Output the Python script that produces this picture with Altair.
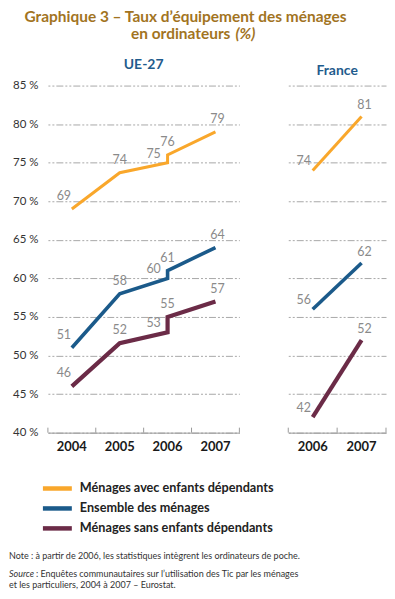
import altair as alt
import pandas as pd

# ---------------- data ----------------
series = ["Ménages avec enfants dépendants", "Ensemble des ménages", "Ménages sans enfants dépendants"]

ue_annees = ["2004", "2005", "2006", "2006", "2007"]
ue_etapes = [1, 2, 3, 4, 5]          # 2006 appears twice: before / after including pocket computers
ue_avec = [69, 73.7, 75, 76, 79]
ue_ensemble = [51, 58, 60, 61, 64]
ue_sans = [46, 51.6, 53, 55, 57]

fr_annees = ["2006", "2007"]
fr_etapes = [1, 2]
fr_avec = [74, 81]
fr_ensemble = [56, 62]
fr_sans = [42, 52]

ue_axe = ["2004", "2005", "2006", "2007"]
fr_axe = ["2006", "2007"]
graduations = [40, 45, 50, 55, 60, 65, 70, 75, 80, 85]

titre_1 = "Graphique 3 – Taux d’équipement des ménages"
titre_2a = "en ordinateurs"
titre_2b = "(%)"
note = "Note : à partir de 2006, les statistiques intègrent les ordinateurs de poche."
source_a = "Source"
source_b = " : Enquêtes communautaires sur l’utilisation des Tic par les ménages"
source_c = "et les particuliers, 2004 à 2007 – Eurostat."

# ---------------- styles ----------------
FONT = "Lato"
couleurs = ["#F9A72B", "#1B5A8A", "#6B2B47"]
epaisseurs = [3, 4.2, 2.6]
H = 348
WL = 192
WR = 98
WT = 337          # header / footer width (their views start where the plots start)
OFF = 40          # width of the y-axis band to the left of the plots


def build(annees, etapes, vals):
    rows = []
    for s, v in zip(series, vals):
        for a, e, x in zip(annees, etapes, v):
            rows.append({"annee": a, "etape": e, "serie": s, "valeur": x})
    return pd.DataFrame(rows)


df_ue = build(ue_annees, ue_etapes, [ue_avec, ue_ensemble, ue_sans])
df_fr = build(fr_annees, fr_etapes, [fr_avec, fr_ensemble, fr_sans])

yscale = alt.Scale(domain=[40, 85], nice=False, zero=False)
cscale = alt.Scale(domain=series, range=couleurs)
wscale = alt.Scale(domain=series, range=epaisseurs)


def panel(df, axe, width, titre, with_labels, placements):
    xs = alt.Scale(type="band", domain=axe, paddingInner=0, paddingOuter=0)
    xaxis = alt.Axis(title=None, ticks=False, grid=False, domainColor="#9a9a9a", domainWidth=1,
                     labelFont=FONT, labelFontSize=13, labelFontWeight="bold", labelColor="#1a1a1a",
                     labelPadding=8, labelAngle=0, minExtent=25, maxExtent=25)
    common = dict(title=None, values=graduations, ticks=False, domain=False, grid=True,
                  gridColor="#a8a8a8", gridDash=[2, 2, 2, 2, 7, 2], gridWidth=1)
    if with_labels:
        yaxis = alt.Axis(labelExpr="datum.value + ' %'", labelFont=FONT, labelFontSize=11.5,
                         labelColor="#333333", labelPadding=10, minExtent=OFF, maxExtent=OFF, **common)
    else:
        yaxis = alt.Axis(labels=False, minExtent=0, maxExtent=0, **common)

    base = alt.Chart(df).encode(
        x=alt.X("annee:N", scale=xs, axis=xaxis, bandPosition=0.5),
        y=alt.Y("valeur:Q", scale=yscale, axis=yaxis),
    )
    lines = base.mark_line(strokeJoin="miter", strokeCap="butt").encode(
        color=alt.Color("serie:N", scale=cscale, legend=None),
        strokeWidth=alt.StrokeWidth("serie:N", scale=wscale, legend=None),
        order=alt.Order("etape:Q"),
        detail="serie:N",
    )
    layers = [lines]
    for cond, dx, dy in placements:
        layers.append(
            base.mark_text(font=FONT, fontSize=12.5, color="#8a8a8a", dx=dx, dy=dy, baseline="middle")
            .encode(text=alt.Text("valeur:Q", format=".0f"))
            .transform_filter(cond)
        )
    ticks_df = pd.DataFrame({"annee": axe})
    tick0 = alt.Chart(ticks_df).mark_rule(color="#9a9a9a", strokeWidth=1).encode(
        x=alt.X("annee:N", scale=xs, axis=xaxis, bandPosition=0),
        y=alt.value(H - 5), y2=alt.value(H),
    )
    tick1 = alt.Chart(ticks_df).mark_rule(color="#9a9a9a", strokeWidth=1).encode(
        x=alt.X("annee:N", scale=xs, axis=xaxis, bandPosition=1),
        y=alt.value(H - 5), y2=alt.value(H),
    ).transform_filter(alt.datum.annee == axe[-1])
    layers += [tick0, tick1]
    return alt.layer(*layers).properties(
        width=width, height=H,
        title=alt.Title(titre, font=FONT, fontSize=14, fontWeight="bold", color="#1F5C8D", offset=8),
    )


left = panel(df_ue, ue_axe, WL, "UE-27", True, [
    (alt.datum.etape == 1, -8, -13),
    (alt.datum.etape == 3, -14, -9),
    ((alt.datum.etape == 2) | (alt.datum.etape == 4), 0, -13),
    (alt.datum.etape == 5, 2, -13),
])
right = panel(df_fr, fr_axe, WR, "France", False, [
    (alt.datum.etape == 1, -9, -9),
    (alt.datum.etape == 2, 3, -11),
])

# ---------------- header ----------------
TC = "#A2741F"
TS = 15.5
hdr_df = pd.DataFrame({"t1": [titre_1], "t2a": [titre_2a], "t2b": [titre_2b]})
hbase = alt.Chart(hdr_df)
header = alt.layer(
    hbase.mark_text(font=FONT, fontSize=TS, fontWeight="bold", color=TC, align="center", baseline="alphabetic")
    .encode(text="t1:N", x=alt.value(178 - OFF), y=alt.value(13)),
    hbase.mark_text(font=FONT, fontSize=TS, fontWeight="bold", color=TC, align="right", baseline="alphabetic")
    .encode(text="t2a:N", x=alt.value(223 - OFF), y=alt.value(30)),
    hbase.mark_text(font=FONT, fontSize=TS, fontWeight="bold", fontStyle="italic", color=TC, align="left",
                    baseline="alphabetic")
    .encode(text="t2b:N", x=alt.value(228 - OFF), y=alt.value(30)),
).properties(width=WT, height=49)

# ---------------- legend + notes ----------------
leg_df = pd.DataFrame({"serie": series})
ly = alt.Y("serie:N", scale=alt.Scale(type="point", domain=series, range=[31, 71], padding=0), axis=None)
leg_lines = alt.Chart(leg_df).mark_rule(strokeWidth=4.5).encode(
    x=alt.value(35 - OFF), x2=alt.value(64 - OFF), y=ly,
    color=alt.Color("serie:N", scale=cscale, legend=None),
)
leg_text = alt.Chart(leg_df).mark_text(font=FONT, fontSize=12.7, fontWeight="bold", color="#222222",
                                       align="left", baseline="middle").encode(
    x=alt.value(72 - OFF), y=ly, text="serie:N",
)
notes_df = pd.DataFrame({"n": [note], "sa": [source_a], "sb": [source_b], "sc": [source_c]})
nb = alt.Chart(notes_df)
nstyle = dict(font=FONT, fontSize=9, color="#333333", align="left", baseline="alphabetic")
notes = [
    nb.mark_text(**nstyle).encode(text="n:N", x=alt.value(1 - OFF), y=alt.value(102)),
    nb.mark_text(fontStyle="italic", **nstyle).encode(text="sa:N", x=alt.value(1 - OFF), y=alt.value(120)),
    nb.mark_text(**nstyle).encode(text="sb:N", x=alt.value(28 - OFF), y=alt.value(120)),
    nb.mark_text(**nstyle).encode(text="sc:N", x=alt.value(1 - OFF), y=alt.value(131)),
]
bottom = alt.layer(leg_lines, leg_text, *notes).properties(width=WT, height=133)

chart = alt.vconcat(
    header,
    alt.hconcat(left, right, spacing=47),
    bottom,
    spacing=0,
).properties(padding=0).configure_view(stroke=None)

chart.save("out.html", embed_options={"renderer": "svg", "actions": False})
